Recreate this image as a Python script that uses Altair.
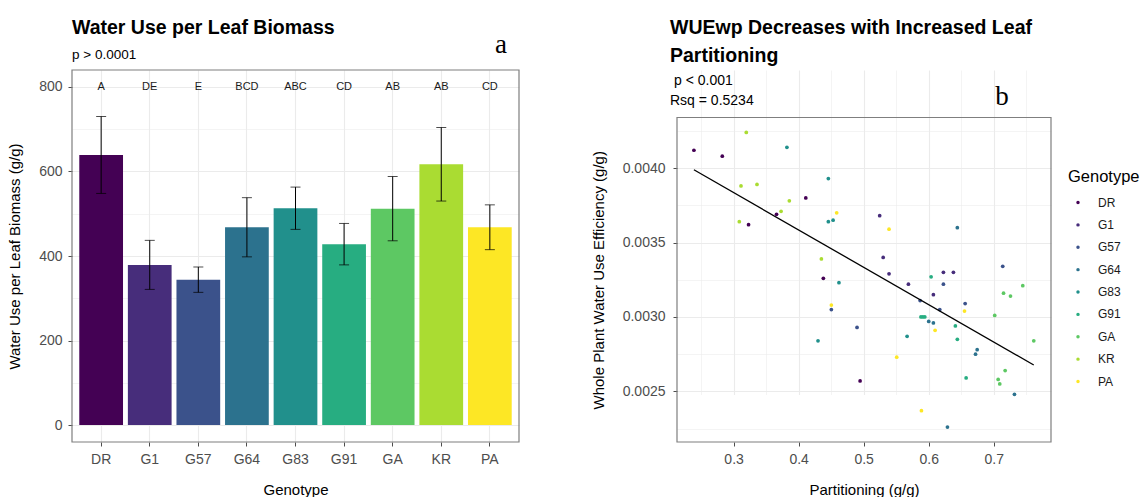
import altair as alt
import pandas as pd

FONT = "Liberation Sans"
SERIF = "Liberation Serif"

GENOTYPES = ["DR", "G1", "G57", "G64", "G83", "G91", "GA", "KR", "PA"]
VIRIDIS = ["#440154", "#472D7B", "#3B528B", "#2C728E", "#21908C",
           "#27AD81", "#5DC863", "#AADC32", "#FDE725"]

# Panel a: water use per leaf biomass (mean and standard error)
WATER_USE_MEAN = [639, 379, 344, 468, 513, 428, 512, 617, 468]
WATER_USE_SE = [91, 58, 30, 70, 50, 49, 76, 87, 53]
GROUP_LETTERS = ["A", "DE", "E", "BCD", "ABC", "CD", "AB", "AB", "CD"]
LETTER_LEVEL = 800

# Panel b: individual plants, partitioning vs whole plant WUE
POINT_GENOTYPE = (["DR"] * 7 + ["G1"] * 7 + ["G57"] * 7 + ["G64"] * 7 + ["G83"] * 7
                  + ["G91"] * 7 + ["GA"] * 8 + ["KR"] * 7 + ["PA"] * 7)
PARTITIONING = [
    0.239, 0.2826, 0.411, 0.366, 0.323, 0.438, 0.4945,            # DR
    0.5246, 0.530, 0.539, 0.6226, 0.638, 0.5688, 0.6072,          # G1
    0.4503, 0.4898, 0.7138, 0.6226, 0.5868, 0.656, 0.617,         # G57
    0.644, 0.600, 0.6072, 0.6745, 0.672, 0.7318, 0.6288,          # G64
    0.382, 0.4457, 0.4457, 0.453, 0.462, 0.4298, 0.5668,          # G83
    0.6037, 0.588, 0.591, 0.594, 0.641, 0.644, 0.6575,            # G91
    0.7446, 0.715, 0.7257, 0.7015, 0.7615, 0.7175, 0.7068, 0.7092,  # GA
    0.3195, 0.3114, 0.336, 0.3857, 0.373, 0.3088, 0.435,          # KR
    0.4585, 0.4503, 0.539, 0.655, 0.6098, 0.5508, 0.5888,         # PA
]
WUE = [
    0.00412, 0.00408, 0.00380, 0.00369, 0.00362, 0.00326, 0.00257,
    0.00368, 0.00340, 0.00329, 0.00330, 0.00330, 0.00322, 0.00315,
    0.00305, 0.00293, 0.00334, 0.00322, 0.00311, 0.00309, 0.00305,
    0.00360, 0.00297, 0.00296, 0.00278, 0.00275, 0.00248, 0.00226,
    0.00414, 0.00393, 0.00364, 0.00365, 0.00323, 0.00284, 0.00287,
    0.00327, 0.00300, 0.00300, 0.00300, 0.00294, 0.00285, 0.00259,
    0.00321, 0.00316, 0.00314, 0.00301, 0.00284, 0.00264, 0.00258, 0.00255,
    0.00424, 0.00388, 0.00389, 0.00378, 0.00371, 0.00364, 0.00339,
    0.00370, 0.00308, 0.00359, 0.00304, 0.00291, 0.00273, 0.00237,
]

# Axis breaks (major and minor)
A_Y_BREAKS = [0, 100, 200, 300, 400, 500, 600, 700, 800]
B_X_BREAKS = [0.25, 0.3, 0.35, 0.4, 0.45, 0.5, 0.55, 0.6, 0.65, 0.7, 0.75]
B_Y_BREAKS = [0.00225, 0.0025, 0.00275, 0.003, 0.00325, 0.0035, 0.00375, 0.004, 0.00425]

GRID = "#EBEBEB"
BORDER = "#7F7F7F"
PANEL_H = 372          # both panels share the same bottom edge
A_W = 447
B_W = 374
B_TOP = 47.5           # panel b's plotting region starts below its longer heading


def cond(test, major, minor):
    return {"condition": {"test": test, "value": major}, "value": minor}


def label(text, x, y, size, weight="normal", font=FONT, align="left"):
    """A single piece of heading text placed relative to a panel's top-left corner."""
    return alt.Chart(pd.DataFrame({"t": [text]})).mark_text(
        font=font, fontSize=size, fontWeight=weight, color="black",
        align=align, baseline="alphabetic",
    ).encode(x=alt.value(x), y=alt.value(y), text="t:N")


def frame(w, top, bottom):
    return alt.Chart(pd.DataFrame({"t": [0]})).mark_rect(
        fillOpacity=0, stroke=BORDER, strokeWidth=1.2
    ).encode(x=alt.value(0), x2=alt.value(w), y=alt.value(top), y2=alt.value(bottom))


# ---------------- panel a ----------------
bars_df = pd.DataFrame({
    "Genotype": GENOTYPES,
    "WaterUse": WATER_USE_MEAN,
    "SE": WATER_USE_SE,
    "Letter": GROUP_LETTERS,
})
bars_df["Low"] = bars_df["WaterUse"] - bars_df["SE"]
bars_df["High"] = bars_df["WaterUse"] + bars_df["SE"]
bars_df["LetterY"] = LETTER_LEVEL

A_YTITLE = "Water Use per Leaf Biomass (g/g)"
a_major = "datum.value % 200 === 0"

x_a = alt.X(
    "Genotype:N", sort=GENOTYPES, title="Genotype",
    scale=alt.Scale(paddingInner=0.1, paddingOuter=0.15),
    axis=alt.Axis(labelAngle=0, bandPosition=0.5, grid=True, gridColor=GRID, gridWidth=1.1),
)
y_scale_a = alt.Scale(domain=[-40, 840], nice=False, zero=False)
y_axis_a = alt.Axis(
    values=A_Y_BREAKS,
    labelExpr=f"{a_major} ? datum.label : ''",
    tickOpacity=cond(a_major, 1, 0),
    gridColor=GRID,
    gridWidth=cond(a_major, 1.1, 0.55),
    titlePadding=16,
)

base_a = alt.Chart(bars_df)
bars = base_a.mark_bar().encode(
    x=x_a,
    y=alt.Y("WaterUse:Q", title=A_YTITLE, scale=y_scale_a, axis=y_axis_a),
    fill=alt.Fill("Genotype:N", sort=GENOTYPES,
                  scale=alt.Scale(domain=GENOTYPES, range=VIRIDIS), legend=None),
)
x_a_plain = alt.X("Genotype:N", sort=GENOTYPES, title="Genotype")
err = base_a.mark_rule(color="black", strokeWidth=1).encode(
    x=x_a_plain,
    y=alt.Y("Low:Q", title=A_YTITLE, scale=y_scale_a),
    y2="High:Q",
)
cap_lo = base_a.mark_tick(color="black", size=10, thickness=1).encode(
    x=x_a_plain, y=alt.Y("Low:Q", title=A_YTITLE, scale=y_scale_a))
cap_hi = base_a.mark_tick(color="black", size=10, thickness=1).encode(
    x=x_a_plain, y=alt.Y("High:Q", title=A_YTITLE, scale=y_scale_a))
letters = base_a.mark_text(font=FONT, fontSize=11, color="#1A1A1A").encode(
    x=x_a_plain,
    y=alt.Y("LetterY:Q", title=A_YTITLE, scale=y_scale_a),
    text="Letter:N",
)

left = alt.layer(
    bars, err, cap_lo, cap_hi, letters, frame(A_W, 0, PANEL_H),
    label("Water Use per Leaf Biomass", 0, -36, 19.5, weight="bold"),
    label("p > 0.0001", 0, -11, 13.5),
    label("a", 429, -17, 27, font=SERIF, align="center"),
).properties(width=A_W, height=PANEL_H)

# ---------------- panel b ----------------
pts_df = pd.DataFrame({"Genotype": POINT_GENOTYPE, "Partitioning": PARTITIONING, "WUE": WUE})

bx_major = "abs(datum.value * 10 - round(datum.value * 10)) < 0.001"
by_major = "abs(datum.value * 2000 - round(datum.value * 2000)) < 0.001"

color_scale = alt.Scale(domain=GENOTYPES, range=VIRIDIS)

x_b = alt.X(
    "Partitioning:Q", title="Partitioning (g/g)",
    scale=alt.Scale(domain=[0.213, 0.788], nice=False, zero=False),
    axis=alt.Axis(values=B_X_BREAKS, format=".1f",
                  labelExpr=f"{bx_major} ? datum.label : ''",
                  tickOpacity=cond(bx_major, 1, 0),
                  gridColor=GRID, gridWidth=cond(bx_major, 1.1, 0.55)),
)
y_b_scale = alt.Scale(domain=[0.00216, 0.00434], nice=False, zero=False,
                      range=[PANEL_H, B_TOP])
y_b = alt.Y(
    "WUE:Q", title="Whole Plant Water Use Efficiency (g/g)", scale=y_b_scale,
    axis=alt.Axis(values=B_Y_BREAKS, format=".4f",
                  labelExpr=f"{by_major} ? datum.label : ''",
                  tickOpacity=cond(by_major, 1, 0),
                  gridColor=GRID, gridWidth=cond(by_major, 1.1, 0.55),
                  labelPadding=8, titlePadding=16),
)

points = alt.Chart(pts_df).mark_circle(size=14, opacity=1).encode(
    x=x_b, y=y_b,
    color=alt.Color("Genotype:N", sort=GENOTYPES, scale=color_scale, legend=None),
)
fit = alt.Chart(pts_df).transform_regression("Partitioning", "WUE").mark_line(
    color="black", strokeWidth=1.3
).encode(x=x_b, y=y_b)
scatter = alt.layer(points, fit)

# Genotype key to the right of panel b
key_df = pd.DataFrame({"Genotype": GENOTYPES})
key_y = alt.Y("Genotype:N", sort=GENOTYPES, axis=None,
              scale=alt.Scale(type="point", range=[132.5, 311.5], padding=0))
key_dots = alt.Chart(key_df).mark_circle(size=12, opacity=1).encode(
    x=alt.value(401), y=key_y,
    color=alt.Color("Genotype:N", sort=GENOTYPES, scale=color_scale, legend=None),
)
key_text = alt.Chart(key_df).mark_text(
    font=FONT, fontSize=12, color="#1A1A1A", align="left", baseline="middle"
).encode(x=alt.value(421), y=key_y, text="Genotype:N")
key_title = alt.Chart(pd.DataFrame({"t": ["Genotype"]})).mark_text(
    font=FONT, fontSize=16.5, color="black", align="left", baseline="middle"
).encode(x=alt.value(391), y=alt.value(107), text="t:N")
key = alt.layer(key_dots, key_text)

right = alt.layer(
    scatter, key, key_title, frame(B_W, B_TOP, PANEL_H),
    label("WUEwp Decreases with Increased Leaf", -7, -36, 19.5, weight="bold"),
    label("Partitioning", -7, -8.3, 19.5, weight="bold"),
    label("p < 0.001", -3, 14.7, 14),
    label("Rsq = 0.5234", -7, 35, 14),
    label("b", 325, 35, 27, font=SERIF, align="center"),
).resolve_scale(y="independent").properties(width=B_W, height=PANEL_H)

chart = (
    alt.hconcat(left, right, spacing=71)
    .properties(padding={"left": 7, "top": 18, "right": 0, "bottom": 0})
    .configure_view(stroke=None)
    .configure_axis(
        labelFont=FONT, labelFontSize=14, labelColor="#4D4D4D", labelPadding=6,
        titleFont=FONT, titleFontSize=15, titleFontWeight="normal", titleColor="black",
        titlePadding=16, tickColor="#4D4D4D", tickSize=4, domain=False,
    )
)

chart.save("out.html", embed_options={"renderer": "svg", "actions": False})
